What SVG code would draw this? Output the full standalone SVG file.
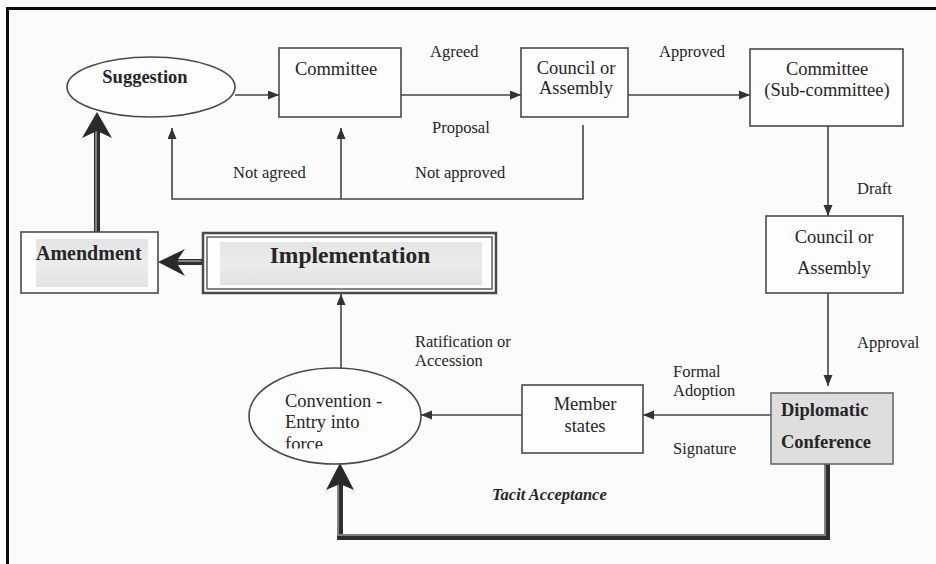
<svg xmlns="http://www.w3.org/2000/svg" width="936" height="564" viewBox="0 0 936 564">
<defs>
<style>
text{font-family:"Liberation Serif","Times New Roman",serif;fill:#262626}
.n{font-size:18.5px}
.b{font-size:18.5px;font-weight:bold}
.l{font-size:16.5px}
.box{fill:#fdfdfd;stroke:#4a4a4a;stroke-width:1.6}
.thin{fill:none;stroke:#444;stroke-width:1.6}
.thickO{fill:none;stroke:#2e2e2e;stroke-width:6}
.thickI{fill:none;stroke:#9a9a9a;stroke-width:1.6}
.head{fill:#2a2a2a}
</style>
<marker id="arr" markerUnits="userSpaceOnUse" markerWidth="12" markerHeight="10" refX="11" refY="4.5" orient="auto">
<path d="M0,0 L11,4.5 L0,9 Z" fill="#333"/>
</marker>
<linearGradient id="g1" x1="0" y1="0" x2="0" y2="1">
<stop offset="0" stop-color="#e4e4e4"/>
<stop offset="0.5" stop-color="#ececec"/>
<stop offset="1" stop-color="#e2e2e2"/>
</linearGradient>
<clipPath id="forceClip"><rect x="270" y="430" width="120" height="18.5"/></clipPath>
</defs>
<rect width="936" height="564" fill="#fbfbfb"/>
<path d="M7.5,564 V8.5 H936" fill="none" stroke="#0a0a0a" stroke-width="3"/>

<g id="connectors">
<line class="thin" x1="235" y1="95" x2="279" y2="95" marker-end="url(#arr)"/>
<line class="thin" x1="401" y1="95" x2="521" y2="95" marker-end="url(#arr)"/>
<line class="thin" x1="628" y1="95" x2="750" y2="95" marker-end="url(#arr)"/>
<path class="thin" d="M583,125 V199 H172 V128" marker-end="url(#arr)"/>
<path class="thin" d="M341,199 V128" marker-end="url(#arr)"/>
<path class="thin" d="M828,126 V216" marker-end="url(#arr)"/>
<path class="thin" d="M828,293 V386" marker-end="url(#arr)"/>
<path class="thin" d="M771,415 H643" marker-end="url(#arr)"/>
<path class="thin" d="M522,415 H421" marker-end="url(#arr)"/>
<path class="thin" d="M341,368 V294" marker-end="url(#arr)"/>
<!-- thick: amendment to suggestion -->
<path class="thickO" d="M97,232 V128"/>
<path class="thickI" d="M96,231 V130"/>
<path class="head" d="M97,112 L112,138 L97,131 L82,138 Z"/>
<!-- thick: implementation to amendment -->
<path class="thickO" d="M202,262 H176"/>
<path class="thickI" d="M201,261 H178"/>
<path class="head" d="M158,262 L185,249 L176,262 L185,276 Z"/>
<!-- thick: tacit acceptance -->
<path class="thickO" d="M827,464 V537 H340 V482"/>
<path class="thickI" d="M825,465 V535 H338 V484"/>
<path class="head" d="M340,463 L354,490 L340,484 L326,490 Z"/>
</g>

<g id="frame-labels">
<text class="l" x="430" y="57">Agreed</text>
<text class="l" x="659" y="57">Approved</text>
<text class="l" x="432" y="133">Proposal</text>
<text class="l" x="233" y="178">Not agreed</text>
<text class="l" x="415" y="178">Not approved</text>
<text class="l" x="857" y="194">Draft</text>
<text class="l" x="857" y="348">Approval</text>
<text class="l" x="415" y="347">Ratification or</text>
<text class="l" x="415" y="366">Accession</text>
<text class="l" x="673" y="377">Formal</text>
<text class="l" x="673" y="396">Adoption</text>
<text class="l" x="673" y="454">Signature</text>
<text class="l" x="492" y="500" font-weight="bold" font-style="italic">Tacit Acceptance</text>
</g>

<g id="suggestion">
<ellipse cx="151" cy="87" rx="84" ry="30" class="box"/>
<text class="b" x="145" y="83" text-anchor="middle">Suggestion</text>
</g>
<g id="committee">
<rect x="279" y="48" width="122" height="69" class="box"/>
<text class="n" x="336" y="75" text-anchor="middle">Committee</text>
</g>
<g id="council1">
<rect x="521" y="48" width="107" height="69" class="box"/>
<text class="n" x="576" y="74" text-anchor="middle">Council or</text>
<text class="n" x="576" y="94" text-anchor="middle">Assembly</text>
</g>
<g id="subcommittee">
<rect x="750" y="49" width="153" height="77" class="box"/>
<text class="n" x="827" y="75" text-anchor="middle">Committee</text>
<text class="n" x="827" y="96" text-anchor="middle">(Sub-committee)</text>
</g>
<g id="council2">
<rect x="766" y="216" width="137" height="77" class="box"/>
<text class="n" x="834" y="243" text-anchor="middle">Council or</text>
<text class="n" x="834" y="274" text-anchor="middle">Assembly</text>
</g>
<g id="diplomatic">
<rect x="771" y="393" width="122" height="71" fill="#dedede" stroke="#6a6a6a" stroke-width="1.6"/>
<text class="b" x="781" y="416" font-size="18">Diplomatic</text>
<text class="b" x="781" y="448" font-size="18">Conference</text>
</g>
<g id="member">
<rect x="522" y="385" width="121" height="68" class="box"/>
<text class="n" x="585" y="410" text-anchor="middle">Member</text>
<text class="n" x="585" y="432" text-anchor="middle">states</text>
</g>
<g id="convention">
<ellipse cx="335" cy="416" rx="86" ry="48" class="box"/>
<text class="n" x="285" y="407">Convention -</text>
<text class="n" x="285" y="428">Entry into</text>
<text class="n" x="285" y="450" clip-path="url(#forceClip)">force</text>
</g>
<g id="implementation">
<rect x="203" y="233" width="293" height="60" fill="#fdfdfd" stroke="#4a4a4a" stroke-width="2.5"/>
<rect x="207" y="237" width="285" height="52" fill="none" stroke="#555" stroke-width="1.4"/>
<rect x="220" y="242" width="262" height="43" fill="url(#g1)"/>
<text x="350" y="263" text-anchor="middle" font-size="23.5" font-weight="bold">Implementation</text>
</g>
<g id="amendment">
<rect x="21" y="232" width="137" height="61" class="box"/>
<rect x="36" y="239" width="112" height="48" fill="url(#g1)"/>
<text x="36" y="260" font-size="20" font-weight="bold">Amendment</text>
</g>
</svg>
